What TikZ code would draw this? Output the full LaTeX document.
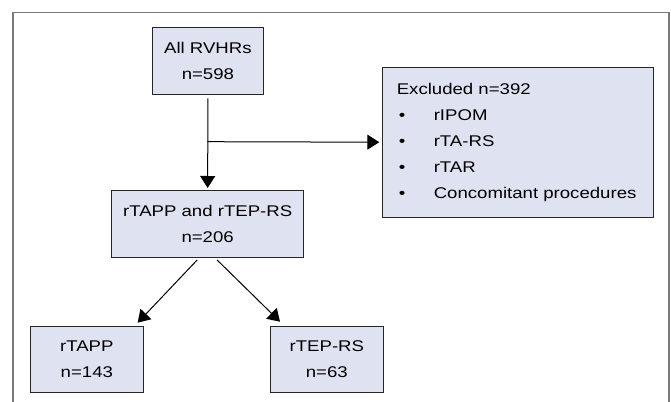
\documentclass[tikz,border=0pt]{standalone}
\usepackage{fontspec}
\setmainfont[FakeStretch=1.2]{Liberation Sans}
\usetikzlibrary{arrows.meta,calc}
\definecolor{boxfill}{HTML}{DFE2F1}
\definecolor{framegray}{HTML}{7A7A7A}
\tikzset{
  box/.style={draw=black!85, line width=1pt, fill=boxfill, anchor=north west,
    align=center, inner sep=0pt, font=\fontsize{15.5}{26}\selectfont},
  conn/.style={line width=1pt, -{Triangle[length=12pt,width=15pt]}},
}
\begin{document}
\begin{tikzpicture}[x=1pt,y=-1pt]
\useasboundingbox (0,0) rectangle (671,401);
\draw[framegray, line width=1.6pt] (13,420) -- (13,12.5) -- (669,12.5) -- (669,420);
\node[box, minimum width=111.8pt, minimum height=67.3pt] (all) at (151.5,26.7) {All RVHRs\\n=598};
\node[box, text width=243pt, minimum height=150pt, align=left, inner xsep=14pt] (excl) at (382.3,66.7)
  {Excluded n=392\\
   \makebox[37pt][l]{\hspace{2pt}•}rIPOM\\
   \makebox[37pt][l]{\hspace{2pt}•}rTA-RS\\
   \makebox[37pt][l]{\hspace{2pt}•}rTAR\\
   \makebox[37pt][l]{\hspace{2pt}•}Concomitant procedures};
\node[box, minimum width=192.3pt, minimum height=67.3pt] (mid) at (111,190) {rTAPP and rTEP-RS\\n=206};
\node[box, minimum width=112.7pt, minimum height=66.6pt] (tapp) at (30,325.7) {rTAPP\\n=143};
\node[box, minimum width=112.7pt, minimum height=66.6pt] (tep) at (270,325.7) {rTEP-RS\\n=63};
\coordinate (branch) at (207.4,141.7);
\draw[conn] ($(all.south)+(0,3.3)$) -- ($(mid.north)+(0,-2)$);
\draw[conn] (branch) -- ($(excl.west)+(-3,0)$);
\draw[conn] ($(mid.south)+(-10.5,1.7)$) -- ($(tapp.north east)+(-6,-3)$);
\draw[conn] ($(mid.south)+(9.5,1.7)$) -- ($(tep.north west)+(10,-4)$);
\end{tikzpicture}
\end{document}
